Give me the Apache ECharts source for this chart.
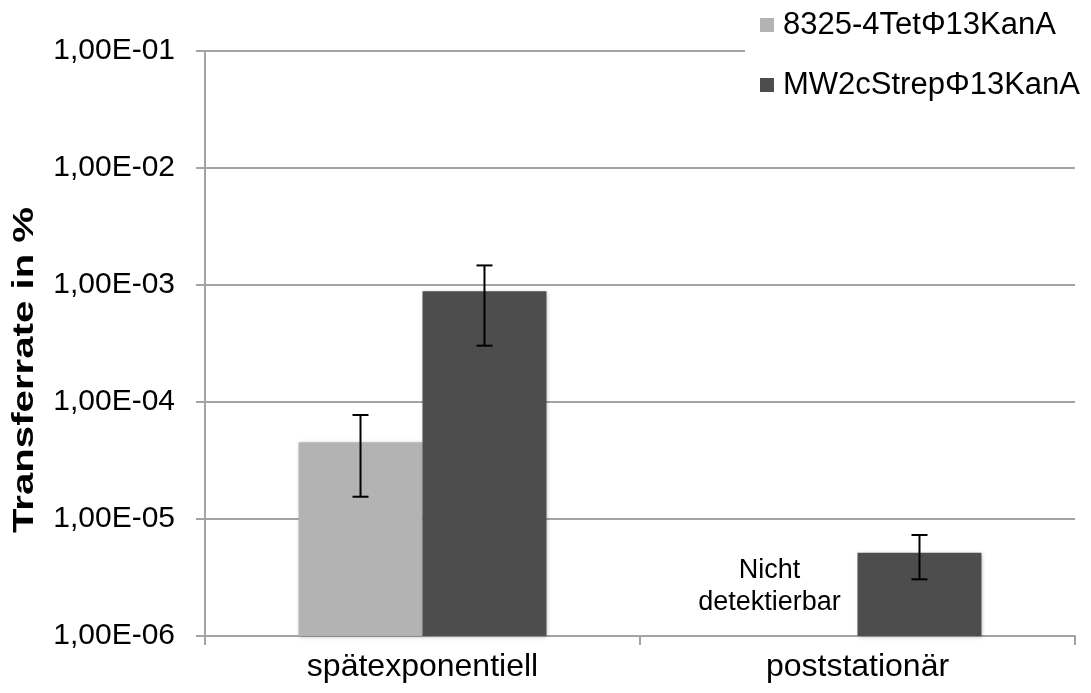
<!DOCTYPE html>
<html>
<head>
<meta charset="utf-8">
<script src="https://cdn.jsdelivr.net/npm/echarts@6/dist/echarts.min.js"></script>
<style>
html,body{margin:0;padding:0;background:#fff;}
#chart{width:1091px;height:693px;}
</style>
</head>
<body>
<div id="chart"></div>
<script>
// ---- data ----
const categories = ['spätexponentiell', 'poststationär'];
const seriesNames = ['8325-4TetΦ13KanA', 'MW2cStrepΦ13KanA'];
const strainA = [4.53e-5, null];          // 8325-4TetΦ13KanA (not detectable in poststationär)
const strainAErrLow = [1.55e-5, null];
const strainAErrHigh = [7.74e-5, null];
const strainB = [8.84e-4, 5.15e-6];       // MW2cStrepΦ13KanA
const strainBErrLow = [3.03e-4, 3.05e-6];
const strainBErrHigh = [1.47e-3, 7.3e-6];
const yTickLabels = ['1,00E-06', '1,00E-05', '1,00E-04', '1,00E-03', '1,00E-02', '1,00E-01'];
const yTickExponents = [-6, -5, -4, -3, -2, -1];
const yMin = 1e-6, yMax = 1e-1;
const yTitle = 'Transferrate in %';
const noteText = 'Nicht\ndetektierbar';

const FONT = 'Liberation Sans';
const GRID_COLOR = '#a3a3a3';
const BAR_WIDTH_FRAC = 0.285;
const COLORS = ['#b3b3b3', '#4d4d4d'];

function barData(vals) {
  const out = [];
  for (let i = 0; i < vals.length; i++) if (vals[i] != null) out.push([i, vals[i]]);
  return out;
}
function errData(low, high) {
  const out = [];
  for (let i = 0; i < low.length; i++) {
    if (low[i] != null && high[i] != null) out.push([i, low[i], high[i]]);
  }
  return out;
}

function barRenderer(side, color) {
  return function (params, api) {
    const idx = api.value(0);
    const v = api.value(1);
    const pTop = api.coord([idx, v]);
    const pBase = api.coord([idx, yMin]);
    const band = api.coord([1, v])[0] - api.coord([0, v])[0];
    const w = band * BAR_WIDTH_FRAC;
    const x0 = side < 0 ? pTop[0] - w : pTop[0];
    return {
      type: 'rect',
      shape: { x: x0, y: pTop[1], width: w, height: pBase[1] - pTop[1] },
      style: { fill: color, shadowBlur: 4, shadowColor: 'rgba(0,0,0,0.25)', shadowOffsetX: 1, shadowOffsetY: 1 }
    };
  };
}

function errorRenderer(side) {
  return function (params, api) {
    const idx = api.value(0);
    const lo = api.value(1), hi = api.value(2);
    const pHi = api.coord([idx, hi]);
    const pLo = api.coord([idx, lo]);
    const band = api.coord([1, hi])[0] - api.coord([0, hi])[0];
    const x = pHi[0] + side * band * BAR_WIDTH_FRAC / 2;
    const cap = 8;
    const style = { stroke: '#000', lineWidth: 2 };
    return {
      type: 'group',
      children: [
        { type: 'line', shape: { x1: x, y1: pHi[1], x2: x, y2: pLo[1] }, style: style },
        { type: 'line', shape: { x1: x - cap, y1: pHi[1], x2: x + cap, y2: pHi[1] }, style: style },
        { type: 'line', shape: { x1: x - cap, y1: pLo[1], x2: x + cap, y2: pLo[1] }, style: style }
      ]
    };
  };
}

const chart = echarts.init(document.getElementById('chart'), null, { renderer: 'canvas' });

const titleGraphic = {
  type: 'text', x: 25, y: 370, rotation: Math.PI / 2, scaleX: 1.34,
  style: { text: yTitle, font: 'bold 30px "Liberation Sans"', fill: '#000', align: 'center', verticalAlign: 'middle' },
  z: 10
};

chart.setOption({
  animation: false,
  backgroundColor: '#fff',
  textStyle: { fontFamily: FONT },
  grid: { left: 205, right: 16, top: 51, bottom: 57, containLabel: false },
  legend: {
    orient: 'vertical',
    left: 745, top: 0,
    padding: [7, 10, 8, 15],
    backgroundColor: '#fff',
    itemWidth: 14, itemHeight: 14,
    itemGap: 24,
    icon: 'rect',
    data: seriesNames,
    textStyle: { fontFamily: FONT, fontSize: 31, color: '#000', lineHeight: 36, padding: [0, 0, 0, 4] }
  },
  xAxis: {
    type: 'category',
    data: categories,
    axisLine: { lineStyle: { color: GRID_COLOR, width: 2 } },
    axisTick: { show: true, length: 9, lineStyle: { color: GRID_COLOR, width: 2 } },
    axisLabel: { fontFamily: FONT, fontSize: 32, color: '#000', margin: 15 },
    splitLine: { show: false }
  },
  yAxis: {
    type: 'log',
    logBase: 10,
    min: yMin,
    max: yMax,
    axisLine: { show: true, lineStyle: { color: GRID_COLOR, width: 2 } },
    axisTick: { show: true, length: 9, lineStyle: { color: GRID_COLOR, width: 2 } },
    minorTick: { show: false },
    axisLabel: {
      fontFamily: FONT, fontSize: 30, color: '#000', margin: 30,
      formatter: function (v) {
        const e = Math.round(Math.log10(v));
        const i = yTickExponents.indexOf(e);
        return i >= 0 ? yTickLabels[i] : '';
      }
    },
    splitLine: { show: true, lineStyle: { color: GRID_COLOR, width: 2 } }
  },
  graphic: [titleGraphic],
  series: [
    {
      name: seriesNames[0], type: 'custom', data: barData(strainA),
      itemStyle: { color: COLORS[0] },
      renderItem: barRenderer(-1, COLORS[0]), z: 2, encode: { x: 0, y: 1 }
    },
    {
      name: seriesNames[1], type: 'custom', data: barData(strainB),
      itemStyle: { color: COLORS[1] },
      renderItem: barRenderer(1, COLORS[1]), z: 2, encode: { x: 0, y: 1 }
    },
    {
      name: seriesNames[0] + ' Fehler', type: 'custom', data: errData(strainAErrLow, strainAErrHigh),
      renderItem: errorRenderer(-1), z: 5, encode: { x: 0, y: [1, 2] }
    },
    {
      name: seriesNames[1] + ' Fehler', type: 'custom', data: errData(strainBErrLow, strainBErrHigh),
      renderItem: errorRenderer(1), z: 5, encode: { x: 0, y: [1, 2] }
    }
  ]
});

// annotation for the missing bar, placed via the library's scales
(function () {
  const p = chart.convertToPixel({ xAxisIndex: 0, yAxisIndex: 0 }, [1, yMin]);
  const band = chart.convertToPixel({ xAxisIndex: 0 }, 1) - chart.convertToPixel({ xAxisIndex: 0 }, 0);
  const x = p[0] - band * BAR_WIDTH_FRAC / 2 - 26;
  chart.setOption({
    graphic: [
      titleGraphic,
      {
        type: 'text', x: x, y: p[1] - 49,
        style: { text: noteText, font: '27px "Liberation Sans"', fill: '#000', align: 'center', verticalAlign: 'middle', lineHeight: 32 },
        z: 10
      }
    ]
  });
})();
</script>
</body>
</html>
